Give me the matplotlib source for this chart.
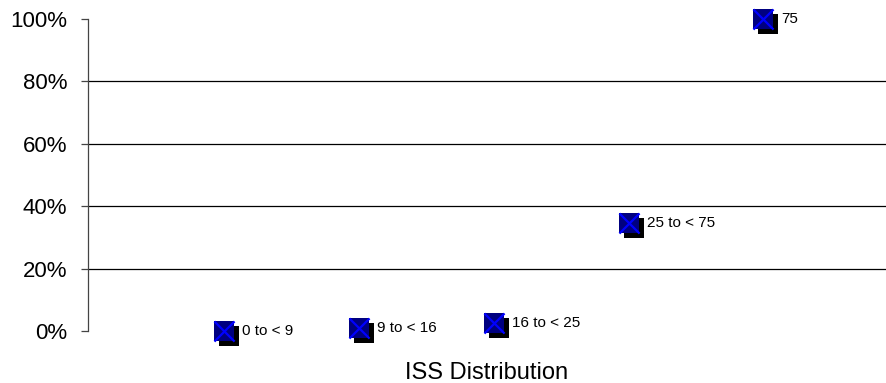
import numpy as np
import matplotlib
matplotlib.use('Agg')
import matplotlib.pyplot as plt
import matplotlib.transforms as mtransforms
from matplotlib.ticker import PercentFormatter

categories = ["0 to < 9", "9 to < 16", "16 to < 25", "25 to < 75", "75"]
x_pos = [1, 2, 3, 4, 5]
pct = [0.0, 1.0, 2.6, 34.6, 100.0]

plt.rcParams['font.family'] = ['Liberation Sans', 'DejaVu Sans']

fig = plt.figure(figsize=(8.86, 3.83), dpi=100)
ax = fig.add_axes([88 / 886, 52 / 383, 1 - 88 / 886, 312 / 383])

ax.set_xlim(-0.01, 5.91)
ax.set_ylim(0, 100)

# gridlines (no line at 0 or 100)
for g in [20, 40, 60, 80]:
    ax.axhline(g, color='black', linewidth=0.9, zorder=1)

# drop shadow
shadow = mtransforms.offset_copy(ax.transData, fig=fig, x=5, y=-5, units='dots')
ax.scatter(x_pos, pct, marker='s', s=210, color='black', transform=shadow,
           zorder=2, clip_on=False, linewidths=0)
ax.scatter(x_pos, pct, marker='s', s=210, color='#000080', zorder=3,
           clip_on=False, linewidths=0)
ax.scatter(x_pos, pct, marker='x', s=210, color='#0000FF', zorder=4,
           clip_on=False, linewidths=1.6)

for xi, yi, lab in zip(x_pos, pct, categories):
    ax.annotate(lab, (xi, yi), xytext=(13, 0), textcoords='offset points',
                fontsize=11, ha='left', va='center', color='black')

ax.yaxis.set_major_formatter(PercentFormatter(decimals=0))
ax.set_yticks([0, 20, 40, 60, 80, 100])
ax.tick_params(axis='y', direction='out', length=5, width=0.9, colors='#444444',
               labelsize=16, labelcolor='black', pad=10)
ax.set_xticks([])
for s in ['top', 'right', 'bottom']:
    ax.spines[s].set_visible(False)
ax.spines['left'].set_color('#444444')
ax.spines['left'].set_linewidth(0.9)

ax.set_xlabel('ISS Distribution', fontsize=17, labelpad=22)

plt.savefig('out.png', dpi=100)
